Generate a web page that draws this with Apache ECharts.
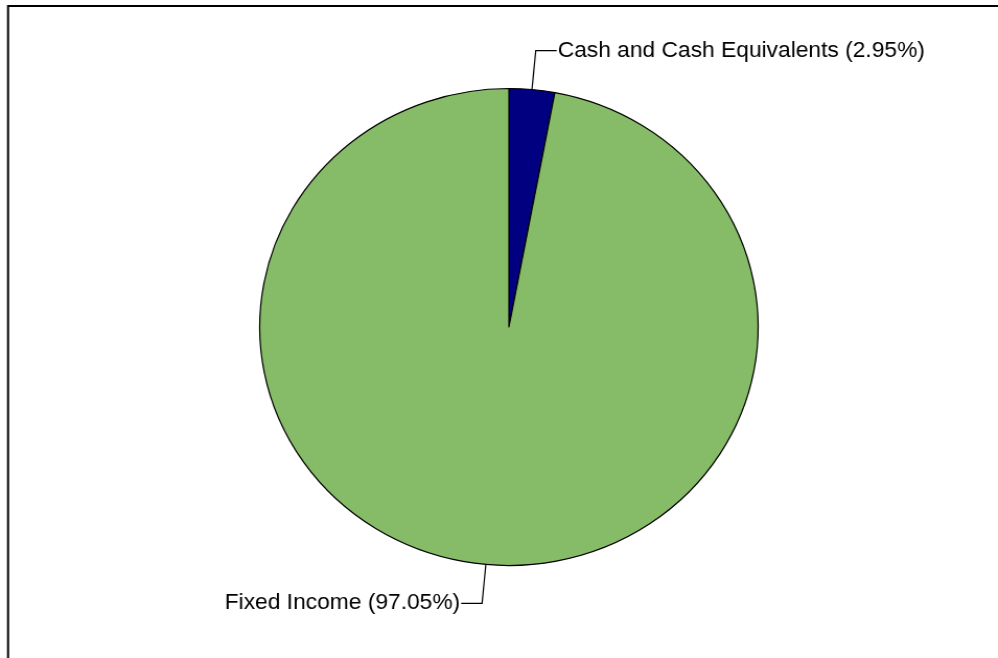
<!DOCTYPE html>
<html>
<head>
<meta charset="utf-8">
<script src="https://cdn.jsdelivr.net/npm/echarts@6/dist/echarts.min.js"></script>
<style>
  html, body { margin: 0; padding: 0; background: #fff; overflow: hidden; }
  /* the chart is laid out slightly narrower and widened to the full page */
  #chart {
    width: 955px;
    height: 658px;
    transform: scaleX(1.045);
    transform-origin: 0 0;
  }
</style>
</head>
<body>
<div id="chart"></div>
<script>
// Portfolio allocation by asset class (percent of total)
const categories = ['Cash and Cash Equivalents', 'Fixed Income'];
const weights = [2.95, 97.05];
const sliceColors = ['#000080', '#86BB67'];

const chart = echarts.init(document.getElementById('chart'), null, { renderer: 'canvas' });

chart.setOption({
  animation: false,
  backgroundColor: '#ffffff',
  graphic: [
    {
      type: 'rect',
      shape: { x: 7.7, y: 6, width: 1100, height: 800 },
      style: { fill: 'none', stroke: '#000', lineWidth: 2 },
      silent: true
    }
  ],
  series: [
    {
      type: 'pie',
      center: [487, 327],
      radius: 238.5,
      startAngle: 90,
      clockwise: true,
      percentPrecision: 2,
      itemStyle: { borderColor: '#000', borderWidth: 1.2 },
      label: {
        show: true,
        position: 'outside',
        formatter: '{b} ({d}%)',
        color: '#000',
        fontFamily: 'Liberation Sans, Arial, sans-serif',
        fontSize: 21.8,
        distanceToLabelLine: 1
      },
      labelLine: {
        show: true,
        length: 39,
        length2: 20,
        smooth: false,
        lineStyle: { color: '#000', width: 1.2 }
      },
      emphasis: { disabled: true },
      data: categories.map((name, i) => ({
        name: name,
        value: weights[i],
        itemStyle: { color: sliceColors[i] }
      }))
    }
  ]
});
</script>
</body>
</html>
